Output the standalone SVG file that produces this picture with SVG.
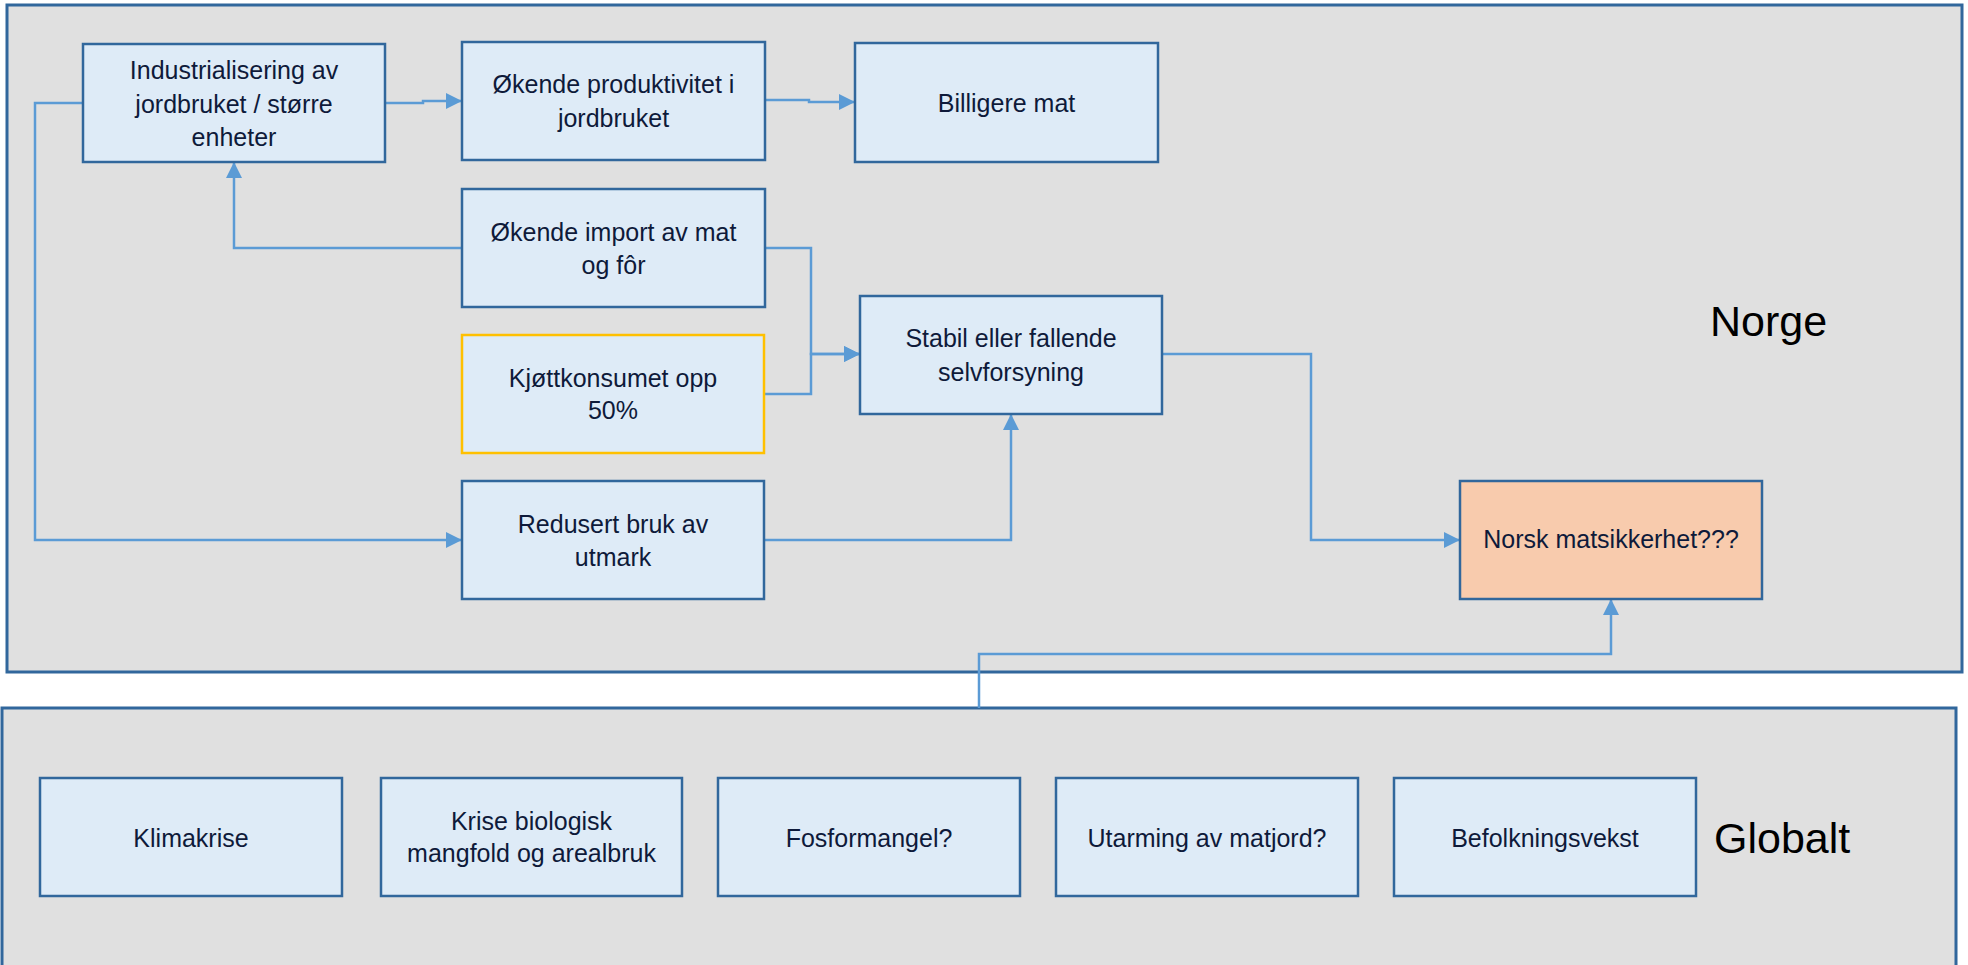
<svg xmlns="http://www.w3.org/2000/svg" width="1968" height="965" viewBox="0 0 1968 965">
<style>
.panel{fill:#e0e0e0;stroke:#31679c;stroke-width:3}
.box{fill:#deebf7;stroke:#31679c;stroke-width:2.5}
.warn{fill:#deebf7;stroke:#ffc000;stroke-width:2.5}
.goal{fill:#f8cbad;stroke:#31679c;stroke-width:2.5}
.t{font-family:"Liberation Sans",Arial,sans-serif;font-size:25px;fill:#0e1a3a;text-anchor:middle}
.lbl{font-family:"Liberation Sans",Arial,sans-serif;font-size:43px;fill:#000}
.c{fill:none;stroke:#5b9bd5;stroke-width:2.5}
</style>
<defs>
<marker id="a" markerUnits="userSpaceOnUse" markerWidth="16" markerHeight="16" viewBox="0 0 16 16" refX="15" refY="8" orient="auto">
<path d="M0,0 L16,8 L0,16 Z" fill="#5b9bd5"/>
</marker>
</defs>
<rect width="1968" height="965" fill="#ffffff"/>
<g id="panel-norge">
<rect class="panel" x="7" y="5" width="1955" height="667"/>
<text class="lbl" x="1710" y="336">Norge</text>
</g>
<g id="panel-globalt">
<rect class="panel" x="2" y="708" width="1954" height="270"/>
<text class="lbl" x="1714" y="853">Globalt</text>
</g>
<g id="connectors">
<path class="c" d="M385,103 H423 V101 H461" marker-end="url(#a)"/>
<path class="c" d="M765,100 H809 V102 H854" marker-end="url(#a)"/>
<path class="c" d="M462,248 H234 V163" marker-end="url(#a)"/>
<path class="c" d="M83,103 H35 V540 H461" marker-end="url(#a)"/>
<path class="c" d="M765,248 H811 V354 H859" marker-end="url(#a)"/>
<path class="c" d="M764,394 H811 V354 H859" marker-end="url(#a)"/>
<path class="c" d="M764,540 H1011 V415" marker-end="url(#a)"/>
<path class="c" d="M1162,354 H1311 V540 H1459" marker-end="url(#a)"/>
<path class="c" d="M979,708 V654 H1611 V600" marker-end="url(#a)"/>
</g>
<g id="n-industrialisering">
<rect class="box" x="83" y="44" width="302" height="118"/>
<text class="t" x="234" y="79">Industrialisering av</text>
<text class="t" x="234" y="113">jordbruket / større</text>
<text class="t" x="234" y="146">enheter</text>
</g>
<g id="n-produktivitet">
<rect class="box" x="462" y="42" width="303" height="118"/>
<text class="t" x="613.5" y="93">Økende produktivitet i</text>
<text class="t" x="613.5" y="127">jordbruket</text>
</g>
<g id="n-billigere">
<rect class="box" x="855" y="43" width="303" height="119"/>
<text class="t" x="1006.5" y="112">Billigere mat</text>
</g>
<g id="n-import">
<rect class="box" x="462" y="189" width="303" height="118"/>
<text class="t" x="613.5" y="241">Økende import av mat</text>
<text class="t" x="613.5" y="274">og fôr</text>
</g>
<g id="n-kjott">
<rect class="warn" x="462" y="335" width="302" height="118"/>
<text class="t" x="613" y="387">Kjøttkonsumet opp</text>
<text class="t" x="613" y="419">50%</text>
</g>
<g id="n-utmark">
<rect class="box" x="462" y="481" width="302" height="118"/>
<text class="t" x="613" y="533">Redusert bruk av</text>
<text class="t" x="613" y="566">utmark</text>
</g>
<g id="n-selvforsyning">
<rect class="box" x="860" y="296" width="302" height="118"/>
<text class="t" x="1011" y="347">Stabil eller fallende</text>
<text class="t" x="1011" y="381">selvforsyning</text>
</g>
<g id="n-matsikkerhet">
<rect class="goal" x="1460" y="481" width="302" height="118"/>
<text class="t" x="1611" y="548">Norsk matsikkerhet???</text>
</g>
<g id="n-klimakrise">
<rect class="box" x="40" y="778" width="302" height="118"/>
<text class="t" x="191" y="847">Klimakrise</text>
</g>
<g id="n-biologisk">
<rect class="box" x="381" y="778" width="301" height="118"/>
<text class="t" x="531.5" y="830">Krise biologisk</text>
<text class="t" x="531.5" y="862">mangfold og arealbruk</text>
</g>
<g id="n-fosfor">
<rect class="box" x="718" y="778" width="302" height="118"/>
<text class="t" x="869" y="847">Fosformangel?</text>
</g>
<g id="n-matjord">
<rect class="box" x="1056" y="778" width="302" height="118"/>
<text class="t" x="1207" y="847">Utarming av matjord?</text>
</g>
<g id="n-befolkning">
<rect class="box" x="1394" y="778" width="302" height="118"/>
<text class="t" x="1545" y="847">Befolkningsvekst</text>
</g>
</svg>
